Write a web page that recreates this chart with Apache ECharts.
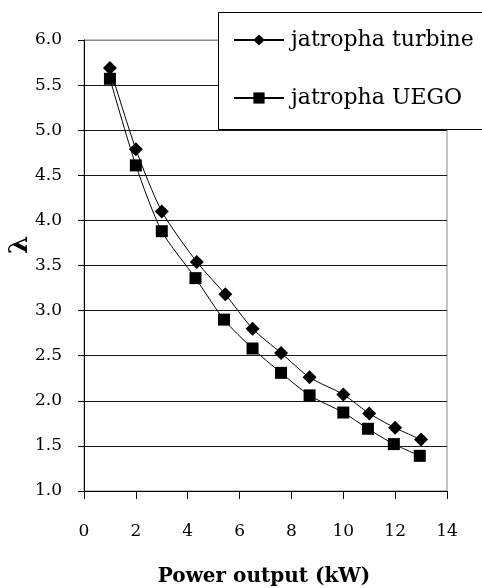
<!DOCTYPE html>
<html>
<head>
<meta charset="utf-8">
<script src="https://cdn.jsdelivr.net/npm/echarts@6/dist/echarts.min.js"></script>
<style>html,body{margin:0;padding:0;background:#fff;}#c{width:482px;height:588px;}</style>
</head>
<body>
<div id="c"></div>
<script>
var turbineX = [1, 2, 3, 4.35, 5.45, 6.5, 7.6, 8.7, 10, 11, 12, 13];
var turbineY = [5.69, 4.79, 4.10, 3.54, 3.18, 2.80, 2.53, 2.26, 2.07, 1.86, 1.70, 1.57];
var uegoX = [1, 2, 3, 4.3, 5.4, 6.5, 7.6, 8.7, 10, 10.95, 11.95, 12.95];
var uegoY = [5.57, 4.61, 3.88, 3.36, 2.90, 2.58, 2.31, 2.06, 1.87, 1.69, 1.52, 1.39];
var seriesNames = ['jatropha turbine', 'jatropha UEGO'];
var xTitle = 'Power output (kW)';
var yTitle = 'λ';

function pairs(xs, ys) { return xs.map(function (x, i) { return [x, ys[i]]; }); }

var FONT = 'DejaVu Serif';
var chart = echarts.init(document.getElementById('c'), null, { renderer: 'canvas' });
var splitColors = [];
for (var i = 0; i < 10; i++) splitColors.push('#1a1a1a');
splitColors.push('#8a8a8a');

chart.setOption({
  animation: false,
  backgroundColor: '#fff',
  grid: { left: 84, right: 35, top: 40, bottom: 97, show: true, borderColor: '#8a8a8a', borderWidth: 1, backgroundColor: 'transparent' },
  xAxis: {
    type: 'value', min: 0, max: 14, interval: 2,
    axisLine: { show: true, onZero: false, lineStyle: { color: '#000', width: 1 } },
    axisTick: { show: true, inside: false, length: 8, lineStyle: { color: '#000' } },
    axisLabel: { margin: 32, color: '#000', fontFamily: FONT, fontSize: 17 },
    splitLine: { show: false }
  },
  yAxis: {
    type: 'value', min: 1, max: 6, interval: 0.5,
    axisLine: { show: true, onZero: false, lineStyle: { color: '#000', width: 1 } },
    axisTick: { show: true, inside: false, length: 6, lineStyle: { color: '#000' } },
    axisLabel: { margin: 22, color: '#000', fontFamily: FONT, fontSize: 17, formatter: function (v) { return v.toFixed(1); } },
    splitLine: { show: true, lineStyle: { color: splitColors, width: 1 } }
  },
  legend: {
    show: true, orient: 'vertical', left: 233, top: 29, padding: 0,
    itemWidth: 50, itemHeight: 14, itemGap: 36, z: 6,
    data: seriesNames,
    textStyle: { color: '#000', fontFamily: FONT, fontSize: 22, lineHeight: 22, padding: [0, 0, 0, 2] }
  },
  graphic: [
    { type: 'rect', z: 5, shape: { x: 218.5, y: 12.5, width: 300, height: 117 }, style: { fill: '#fff', stroke: '#000', lineWidth: 1 } },
    { type: 'text', z: 5, x: 264, y: 577, style: { text: xTitle, fill: '#000', font: 'bold 20px "DejaVu Serif"', textAlign: 'center', textVerticalAlign: 'middle' } },
    { type: 'text', z: 5, x: 20, y: 245, rotation: Math.PI / 2, style: { text: yTitle, fill: '#000', font: 'bold 26px "DejaVu Serif"', textAlign: 'center', textVerticalAlign: 'middle' } }
  ],
  series: [
    {
      name: seriesNames[0], type: 'line', data: pairs(turbineX, turbineY), smooth: 0.25,
      symbol: 'diamond', symbolSize: 14, showAllSymbol: true,
      lineStyle: { color: '#000', width: 1 }, itemStyle: { color: '#000', borderWidth: 0 }
    },
    {
      name: seriesNames[1], type: 'line', data: pairs(uegoX, uegoY), smooth: 0.25,
      symbol: 'rect', symbolSize: 12, showAllSymbol: true,
      lineStyle: { color: '#000', width: 1 }, itemStyle: { color: '#000', borderWidth: 0 }
    }
  ]
});
</script>
</body>
</html>
